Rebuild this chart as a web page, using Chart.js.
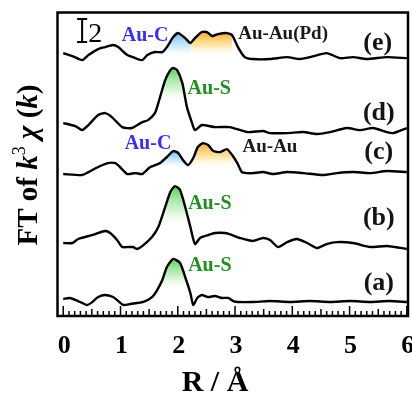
<!DOCTYPE html>
<html>
<head>
<meta charset="utf-8">
<script src="https://cdn.jsdelivr.net/npm/chart.js@4.4.0/dist/chart.umd.min.js"></script>
<style>
  html, body { margin: 0; padding: 0; background: #fff; }
</style>
</head>
<body>
<canvas id="ft" width="412" height="394"></canvas>
<script>
// R values (Å) and FT magnitudes, one pair of arrays per spectrum
const R_E = [0.00,0.16,0.33,0.44,0.61,0.73,0.87,0.96,1.12,1.26,1.38,1.47,1.60,1.73,1.81,1.92,2.01,2.13,2.22,2.30,2.42,2.51,2.60,2.70,2.86,2.95,3.05,3.17,3.31,3.61,3.91,4.13,4.31,4.60,4.83,5.06,5.30,5.65,6.00];
const Y_E = [22.87,22.61,22.26,22.70,23.22,23.39,23.57,23.39,22.70,22.43,22.26,22.70,22.96,22.96,23.39,24.26,24.61,24.17,23.74,24.17,24.70,24.70,24.35,24.52,24.61,24.43,23.39,22.52,22.35,22.35,22.52,22.35,22.52,22.87,22.43,22.52,22.35,22.52,22.43];

const R_D = [0.00,0.21,0.33,0.44,0.61,0.73,0.85,1.03,1.20,1.38,1.48,1.60,1.66,1.78,1.87,1.92,1.99,2.08,2.16,2.25,2.30,2.42,2.65,2.91,3.21,3.49,3.61,3.91,4.19,4.43,4.66,4.95,5.18,5.41,5.65,5.76,6.00];
const Y_D = [16.78,16.52,16.17,16.61,17.48,17.65,17.30,16.43,16.35,16.87,17.04,17.65,18.52,20.52,21.39,21.57,21.39,20.26,18.17,16.78,16.17,16.61,16.43,16.43,16.00,16.09,15.91,15.91,16.00,15.83,16.00,16.35,16.17,16.35,16.00,15.91,16.35];

const R_C = [0.00,0.33,0.44,0.61,0.78,0.91,0.99,1.12,1.26,1.38,1.52,1.69,1.81,1.92,2.01,2.09,2.18,2.27,2.35,2.44,2.53,2.62,2.74,2.86,2.95,3.04,3.12,3.21,3.31,3.49,3.66,3.91,4.19,4.54,4.78,5.06,5.36,5.65,6.00];
const Y_C = [12.35,12.26,12.52,12.96,13.30,13.30,12.96,12.35,12.43,12.35,12.96,13.30,13.83,14.35,14.17,13.57,13.13,13.74,14.70,15.04,14.87,14.35,14.26,14.52,14.00,13.30,12.52,12.43,12.43,12.52,12.35,12.52,12.43,12.26,12.43,12.52,12.43,12.61,12.52];

const R_B = [0.00,0.16,0.26,0.38,0.56,0.73,0.82,0.94,1.03,1.12,1.22,1.29,1.40,1.55,1.66,1.78,1.87,1.95,2.04,2.13,2.22,2.30,2.39,2.53,2.65,2.83,2.95,3.09,3.31,3.49,3.61,3.75,3.91,4.08,4.26,4.43,4.60,4.78,5.06,5.36,5.65,6.00];
const Y_B = [6.35,6.35,6.70,6.87,7.13,7.39,7.22,6.61,6.00,6.00,6.00,5.83,6.17,6.87,7.74,9.48,10.78,11.30,10.96,9.48,7.74,6.26,6.78,7.04,7.22,7.22,7.04,6.78,6.52,6.78,6.61,6.00,6.43,6.70,6.35,5.91,6.26,6.43,6.35,6.00,6.09,5.83];

const R_A = [0.00,0.12,0.26,0.42,0.51,0.61,0.73,0.87,0.96,1.05,1.17,1.29,1.40,1.55,1.64,1.73,1.81,1.92,2.04,2.13,2.22,2.27,2.34,2.42,2.53,2.65,2.77,2.88,2.97,3.05,3.31,3.61,3.96,4.31,4.66,5.01,5.36,5.70,6.00];
const Y_A = [1.48,1.57,1.30,0.96,1.22,1.65,1.83,1.65,1.30,0.96,1.04,1.13,1.22,1.65,2.26,3.13,4.26,4.96,4.61,3.39,2.00,0.96,1.57,1.83,1.65,1.74,1.57,1.57,1.30,1.22,1.22,1.30,1.22,1.30,1.22,1.30,1.22,1.30,1.22];

const X_TICKS = [0, 1, 2, 3, 4, 5, 6];

// shaded shells: R window, and the level where the shading fades out
const FILLS = [
  { xs: R_E, ys: Y_E, from: 1.73, to: 2.22, base: 22.6, kind: "C" },
  { xs: R_E, ys: Y_E, from: 2.22, to: 2.98, base: 22.6, kind: "Au" },
  { xs: R_D, ys: Y_D, from: 1.66, to: 2.16, base: 18.7, kind: "S" },
  { xs: R_C, ys: Y_C, from: 1.69, to: 2.18, base: 12.9, kind: "C" },
  { xs: R_C, ys: Y_C, from: 2.18, to: 3.04, base: 12.9, kind: "Au" },
  { xs: R_B, ys: Y_B, from: 1.66, to: 2.22, base: 7.9, kind: "S" },
  { xs: R_A, ys: Y_A, from: 1.64, to: 2.22, base: 2.3, kind: "S" },
];

const LABELS = [
  { text: "Au-C", x: 1.43, y: 24.35, color: "#3a2eff", size: 20 },
  { text: "Au-Au(Pd)", x: 3.84, y: 24.52, color: "#1a1a1a", size: 19 },
  { text: "(e)", x: 5.49, y: 23.74, color: "#141414", size: 26 },
  { text: "Au-S", x: 2.55, y: 19.74, color: "#1f8f1f", size: 20 },
  { text: "(d)", x: 5.51, y: 17.65, color: "#141414", size: 26 },
  { text: "Au-C", x: 1.48, y: 14.96, color: "#3a2eff", size: 20 },
  { text: "Au-Au", x: 3.61, y: 14.70, color: "#1a1a1a", size: 19 },
  { text: "(c)", x: 5.51, y: 14.26, color: "#141414", size: 26 },
  { text: "Au-S", x: 2.56, y: 9.74, color: "#1f8f1f", size: 20 },
  { text: "(b)", x: 5.51, y: 8.52, color: "#141414", size: 26 },
  { text: "Au-S", x: 2.56, y: 4.35, color: "#1f8f1f", size: 20 },
  { text: "(a)", x: 5.51, y: 2.87, color: "#141414", size: 26 },
];

const SERIF = '"Liberation Serif", "DejaVu Serif", serif';
const pts = (xs, ys) => xs.map((x, i) => ({ x, y: ys[i] }));

const lineSet = (xs, ys) => ({
  data: pts(xs, ys),
  borderColor: "#000",
  borderWidth: 2.4,
  pointRadius: 0,
  tension: 0.2,
  fill: false,
  order: 0,
});

const STOPS = {
  C: [[0, "rgba(80,185,240,0.9)"], [0.6, "rgba(170,220,248,0.55)"], [1, "rgba(230,245,255,0)"]],
  S: [[0, "rgba(60,200,60,0.85)"], [0.6, "rgba(160,230,160,0.5)"], [1, "rgba(230,250,230,0)"]],
  Au: [[0, "rgba(245,168,35,0.95)"], [0.55, "rgba(252,215,120,0.65)"], [1, "rgba(255,248,225,0)"]],
};

const fillSet = (f) => {
  const data = pts(f.xs, f.ys).filter((p) => p.x >= f.from - 1e-6 && p.x <= f.to + 1e-6);
  const peak = Math.max(...data.map((p) => p.y));
  return {
    data,
    borderWidth: 0,
    pointRadius: 0,
    tension: 0.2,
    order: 1,
    fill: { value: f.base },
    backgroundColor: (ctx) => {
      const chart = ctx.chart;
      if (!chart.chartArea) return "rgba(0,0,0,0)";
      const ys = chart.scales.y;
      const g = chart.ctx.createLinearGradient(0, ys.getPixelForValue(peak), 0, ys.getPixelForValue(f.base));
      STOPS[f.kind].forEach(([o, c]) => g.addColorStop(o, c));
      return g;
    },
  };
};

// frame, inward ticks, tick labels, scale bar and all the text
const decor = {
  id: "decor",
  afterDraw(chart) {
    const { ctx, chartArea: a, scales } = chart;
    const x = scales.x, y = scales.y;
    ctx.save();

    ctx.strokeStyle = "#000";
    ctx.lineWidth = 1.5;
    for (let i = 0; i <= 60; i++) {
      const px = x.getPixelForValue(i / 10);
      const len = i % 10 === 0 ? 10 : i % 5 === 0 ? 7 : 5;
      ctx.beginPath();
      ctx.moveTo(px, a.bottom);
      ctx.lineTo(px, a.bottom - len);
      ctx.stroke();
    }
    ctx.lineWidth = 2.5;
    ctx.strokeRect(a.left, a.top, a.right - a.left, a.bottom - a.top);

    ctx.fillStyle = "#000";
    ctx.textAlign = "center";
    ctx.textBaseline = "alphabetic";
    ctx.font = "bold 26px " + SERIF;
    X_TICKS.forEach((v) => ctx.fillText(String(v), x.getPixelForValue(v) + 1, 353));

    ctx.font = "bold 30px " + SERIF;
    ctx.fillText("R / Å", 215, 391);

    // 2-unit scale bar
    const bx = x.getPixelForValue(0.33);
    const b0 = y.getPixelForValue(23.83), b1 = y.getPixelForValue(25.83);
    ctx.lineWidth = 2;
    ctx.beginPath();
    ctx.moveTo(bx, b0); ctx.lineTo(bx, b1);
    ctx.moveTo(bx - 5, b0); ctx.lineTo(bx + 5, b0);
    ctx.moveTo(bx - 5, b1); ctx.lineTo(bx + 5, b1);
    ctx.stroke();
    ctx.font = "28px " + SERIF;
    ctx.textAlign = "left";
    ctx.fillText("2", bx + 6, b0);

    ctx.textAlign = "center";
    ctx.textBaseline = "middle";
    LABELS.forEach((l) => {
      ctx.fillStyle = l.color;
      ctx.font = "bold " + l.size + "px " + SERIF;
      ctx.fillText(l.text, x.getPixelForValue(l.x), y.getPixelForValue(l.y));
    });

    // rotated y title: FT of k³ χ (k)
    const parts = [
      ["FT of ", "bold 29px", 0],
      ["k", "italic bold 29px", 0],
      ["3", "18px", -12],
      [" ", "bold 29px", 0],
      ["χ", "italic bold 29px", 0],
      [" (", "bold 29px", 0],
      ["k", "italic bold 29px", 0],
      [")", "bold 29px", 0],
    ];
    ctx.fillStyle = "#000";
    ctx.textAlign = "left";
    ctx.textBaseline = "alphabetic";
    let total = 0;
    parts.forEach((p) => { ctx.font = p[1] + " " + SERIF; total += ctx.measureText(p[0]).width; });
    ctx.translate(37, 165);
    ctx.rotate(-Math.PI / 2);
    let cx = -total / 2;
    parts.forEach((p) => {
      ctx.font = p[1] + " " + SERIF;
      ctx.fillText(p[0], cx, p[2]);
      cx += ctx.measureText(p[0]).width;
    });
    ctx.restore();
  },
};

new Chart(document.getElementById("ft"), {
  type: "line",
  data: {
    datasets: [
      lineSet(R_E, Y_E),
      lineSet(R_D, Y_D),
      lineSet(R_C, Y_C),
      lineSet(R_B, Y_B),
      lineSet(R_A, Y_A),
      ...FILLS.map(fillSet),
    ],
  },
  options: {
    responsive: false,
    animation: false,
    events: [],
    layout: { padding: { left: 57.5, right: 4, top: 12.5, bottom: 0 } },
    plugins: { legend: { display: false }, tooltip: { enabled: false } },
    scales: {
      x: {
        type: "linear",
        min: -0.1,
        max: 6.02,
        grid: { display: false },
        border: { display: false },
        ticks: { display: false },
        afterFit: (s) => { s.height = 78; },
      },
      y: {
        type: "linear",
        display: false,
        min: 0,
        max: 26.4,
      },
    },
  },
  plugins: [decor],
});
</script>
</body>
</html>
